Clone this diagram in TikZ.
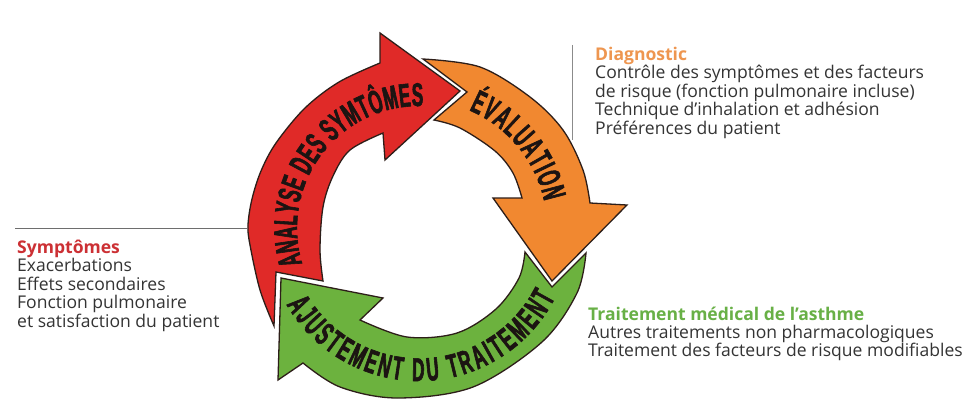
\documentclass[tikz,border=0pt]{standalone}
\usepackage{fontspec}
\setmainfont{Open Sans}
\newfontfamily\arrowfont[FakeStretch=0.52,FakeBold=1.8]{Liberation Sans}
\newcommand\arrowlabelfont{\arrowfont\bfseries\fontsize{33}{35}\selectfont}
\usetikzlibrary{decorations.text}
\definecolor{redA}{RGB}{224,42,40}
\definecolor{orangeA}{RGB}{241,136,48}
\definecolor{greenA}{RGB}{108,178,62}
\definecolor{redT}{RGB}{204,48,52}
\definecolor{orangeT}{RGB}{238,150,80}
\definecolor{greenT}{RGB}{104,176,70}
\definecolor{bodyT}{RGB}{52,52,52}
\definecolor{outl}{RGB}{45,30,25}
\definecolor{labelT}{RGB}{28,20,18}
\definecolor{ruleC}{RGB}{110,110,110}
\begin{document}
\begin{tikzpicture}[x=1bp,y=1bp,
  arrowshape/.style={draw=outl, line width=1.3bp, line join=miter},
  bodytext/.style={anchor=base west, inner sep=0pt, text=bodyT, font=\fontsize{17.6}{18.5}\selectfont},
  headtext/.style={bodytext, font=\bfseries\fontsize{17.6}{18.5}\selectfont},
  rule/.style={draw=ruleC, line width=1bp},
  ringlabel/.style={decorate, decoration={text along path, text align={fit to path}, text color=labelT}}]
\fill[white] (0,0) rectangle (971,403);
\useasboundingbox (0,0) rectangle (971,403);
\begin{scope}[shift={(419,175)}]
% red arrow
\draw[arrowshape, fill=redA]
  plot[smooth, tension=0.55] coordinates {(-145,-98) (-159,-62) (-169,-17) (-171,3) (-167,29) (-158,57) (-143,85) (-114,120) (-80,146) (-39,165)}
  -- (-39,195) -- (41,137) -- (-34,68) -- (-36,95)
  -- plot[smooth, tension=0.55] coordinates {(-36,95) (-69,78) (-86,52) (-96,21) (-99,-22) (-96,-53)}
  -- (-143,-44) -- cycle;
% orange arrow
\draw[arrowshape, fill=orangeA]
  plot[smooth, tension=0.55] coordinates {(4,169) (61,161) (111,131) (144,98) (164,58) (171,25)}
  -- (208,23) -- (133,-53) -- (74,30) -- (103,30)
  -- plot[smooth, tension=0.55] coordinates {(103,30) (94,55) (76,77) (41,100) (15,108)}
  -- (48,136) -- cycle;
% green arrow
\draw[arrowshape, fill=greenA]
  plot[smooth, tension=0.55] coordinates {(167,-25) (158,-65) (123,-114) (54,-159) (-22,-170) (-79,-159) (-116,-135)}
  -- (-141,-152) -- (-138,-50) -- (-36,-70) -- (-59,-92)
  -- plot[smooth, tension=0.55] coordinates {(-59,-92) (-12,-109) (38,-105) (77,-81) (100,-50) (106,-24)}
  -- (133,-59) -- cycle;
% labels along the ring
\path[ringlabel, decoration={text={|\arrowlabelfont|ANALYSE DES SYMTÔMES}}]
  (197:122) arc[start angle=197, end angle=88, radius=122];
\path[ringlabel, decoration={text={|\arrowlabelfont|ÉVALUATION}}]
  (67:128) arc[start angle=67, end angle=12, radius=128];
\path[ringlabel, decoration={text={|\arrowlabelfont|AJUSTEMENT DU TRAITEMENT}}]
  (210:153) arc[start angle=210, end angle=333, radius=153];
\end{scope}
% rules
\coordinate (hl1) at (15,175);
\coordinate (hl2) at (247,175);
\draw[rule] (hl1) -- (hl2);
\coordinate (vl1) at (572,358);
\coordinate (vl2) at (572,263);
\draw[rule, draw=ruleC!80] (vl1) -- (vl2);
% left block
\node[headtext, text=redT] (s0) at (17,150) {Symptômes};
\node[bodytext] (s1) at (17,131.5) {Exacerbations};
\node[bodytext] (s2) at (17,113) {Effets secondaires};
\node[bodytext] (s3) at (17,94.5) {Fonction pulmonaire};
\node[bodytext] (s4) at (17,76) {et satisfaction du patient};
% diagnostic block
\node[headtext, text=orangeT] (d0) at (595,343) {Diagnostic};
\node[bodytext] (d1) at (595,324.5) {Contrôle des symptômes et des facteurs};
\node[bodytext] (d2) at (595,306) {de risque (fonction pulmonaire incluse)};
\node[bodytext] (d3) at (595,287.5) {Technique d’inhalation et adhésion};
\node[bodytext] (d4) at (595,269) {Préférences du patient};
% treatment block
\node[headtext, text=greenT] (t0) at (588,83) {Traitement médical de l’asthme};
\node[bodytext] (t1) at (588,65) {Autres traitements non pharmacologiques};
\node[bodytext] (t2) at (588,47) {Traitement des facteurs de risque modifiables};
\end{tikzpicture}
\end{document}
